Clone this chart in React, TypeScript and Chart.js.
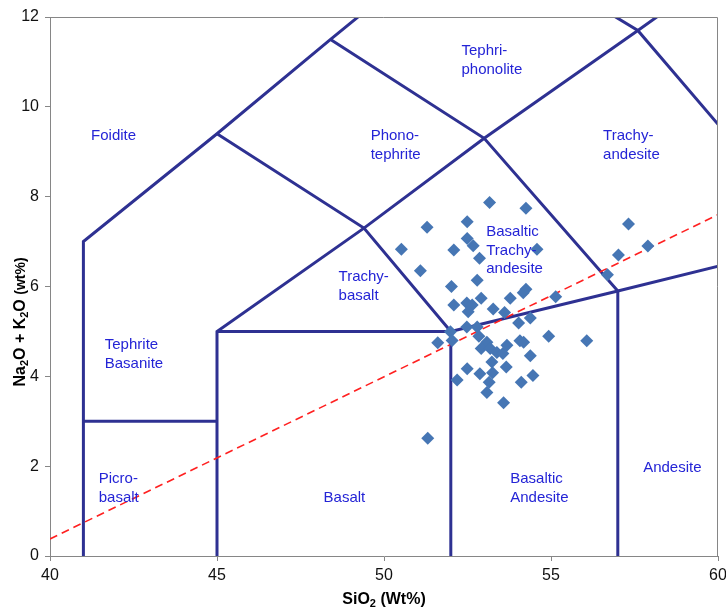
import React, { useEffect, useRef } from 'react';
import { Chart, registerables } from 'chart.js';

Chart.register(...registerables);

// ---- Sample data (SiO2 wt%, Na2O+K2O wt%) ----
const sio2 = [
  53.16, 54.25, 51.29, 52.49, 52.49, 52.67, 52.09, 52.86, 54.58, 50.52,
  51.09, 52.79, 52.02, 54.25, 54.17, 52.91, 53.78, 55.14, 52.09, 52.48,
  52.64, 52.52, 53.27, 53.61, 54.38, 54.03, 52.48, 52.79, 51.99, 52.04,
  51.61, 52.84, 53.08, 52.91, 53.18, 53.38, 53.68, 53.56, 54.07, 54.18,
  54.93, 56.07, 54.38, 53.23, 53.66, 52.49, 52.87, 53.25, 52.19, 53.15,
  54.11, 54.46, 53.08, 53.58, 51.31, 57.32, 57.02, 57.9, 56.69,
];
const alkali = [
  7.87, 7.74, 7.32, 7.44, 7.07, 6.91, 6.81, 6.63, 6.83, 6.83,
  6.35, 6.14, 6.0, 5.94, 5.86, 5.74, 5.74, 5.77, 5.59, 5.63,
  5.59, 5.44, 5.5, 5.42, 5.3, 5.19, 5.1, 5.1, 4.99, 4.8,
  4.75, 4.89, 4.76, 4.62, 4.62, 4.53, 4.69, 4.51, 4.79, 4.76,
  4.89, 4.79, 4.46, 4.32, 4.21, 4.17, 4.06, 4.08, 3.92, 3.87,
  3.87, 4.02, 3.64, 3.41, 2.62, 7.39, 6.7, 6.9, 6.26,
];

// ---- TAS field boundaries (Le Bas et al., 1986) ----
const foiditeBoundary: [number, number][] = [[41, 0], [41, 7], [45, 9.4], [48.4, 11.5], [52.5, 14]];
const picroBasaltTop: [number, number][] = [[41, 3], [45, 3]];
const basaltLeftUp: [number, number][] = [[45, 0], [45, 5], [49.4, 7.3], [53, 9.3], [57.6, 11.7], [61, 13.5]];
const tephriteTop: [number, number][] = [[45, 9.4], [49.4, 7.3], [52, 5]];
const alkaliLower: [number, number][] = [[45, 5], [52, 5], [57, 5.9], [63, 7]];
const basaltRight: [number, number][] = [[52, 0], [52, 5]];
const andesiteLeft: [number, number][] = [[57, 0], [57, 5.9]];
const phonotephriteRight: [number, number][] = [[48.4, 11.5], [53, 9.3], [57, 5.9]];
const tephriphonoliteRight: [number, number][] = [[52.5, 14], [57.6, 11.7], [63, 7]];
const boundaries = [
  foiditeBoundary, picroBasaltTop, basaltLeftUp, tephriteTop, alkaliLower,
  basaltRight, andesiteLeft, phonotephriteRight, tephriphonoliteRight,
];

// Alkaline / sub-alkaline divide
const divideLine: [number, number][] = [[40, 0.38], [60, 7.6]];

// ---- Field names (anchored at data coordinates, left aligned) ----
const fieldLabels: { x: number; y: number; lines: string[] }[] = [
  { x: 52.32, y: 11.24, lines: ['Tephri-', 'phonolite'] },
  { x: 41.23, y: 9.35, lines: ['Foidite'] },
  { x: 49.6, y: 9.35, lines: ['Phono-', 'tephrite'] },
  { x: 56.56, y: 9.35, lines: ['Trachy-', 'andesite'] },
  { x: 53.06, y: 7.21, lines: ['Basaltic', 'Trachy-', 'andesite'] },
  { x: 48.64, y: 6.21, lines: ['Trachy-', 'basalt'] },
  { x: 41.64, y: 4.7, lines: ['Tephrite', 'Basanite'] },
  { x: 41.46, y: 1.71, lines: ['Picro-', 'basalt'] },
  { x: 48.19, y: 1.29, lines: ['Basalt'] },
  { x: 53.78, y: 1.71, lines: ['Basaltic', 'Andesite'] },
  { x: 57.76, y: 1.96, lines: ['Andesite'] },
];

const xTitleParts = [
  { text: 'SiO', size: 16, sub: false },
  { text: '2', size: 11, sub: true },
  { text: ' (Wt%)', size: 16, sub: false },
];
const yTitleParts = [
  { text: 'Na', size: 16, sub: false },
  { text: '2', size: 11, sub: true },
  { text: 'O + K', size: 16, sub: false },
  { text: '2', size: 11, sub: true },
  { text: 'O ', size: 16, sub: false },
  { text: '(wt%)', size: 14, sub: false },
];

const FONT = 'Arial, "Liberation Sans", sans-serif';
const LINE_COLOR = '#2E3192';
const AXIS_COLOR = '#868686';

function drawRich(
  ctx: CanvasRenderingContext2D,
  parts: { text: string; size: number; sub: boolean }[],
  cx: number,
  cy: number,
  vertical: boolean,
) {
  ctx.save();
  ctx.translate(cx, cy);
  if (vertical) ctx.rotate(-Math.PI / 2);
  let total = 0;
  for (const p of parts) {
    ctx.font = `bold ${p.size}px ${FONT}`;
    total += ctx.measureText(p.text).width;
  }
  let x = -total / 2;
  ctx.fillStyle = '#000';
  ctx.textAlign = 'left';
  ctx.textBaseline = 'alphabetic';
  for (const p of parts) {
    ctx.font = `bold ${p.size}px ${FONT}`;
    ctx.fillText(p.text, x, p.sub ? 9 : 6);
    x += ctx.measureText(p.text).width;
  }
  ctx.restore();
}

const annotations = {
  id: 'tasAnnotations',
  afterDatasetsDraw(chart: any) {
    const { ctx, chartArea, scales } = chart;
    const xs = scales.x;
    const ys = scales.y;
    ctx.save();
    // plot-area frame (top & right)
    ctx.strokeStyle = AXIS_COLOR;
    ctx.lineWidth = 1;
    ctx.beginPath();
    ctx.moveTo(chartArea.left, chartArea.top + 0.5);
    ctx.lineTo(chartArea.right - 0.5, chartArea.top + 0.5);
    ctx.lineTo(chartArea.right - 0.5, chartArea.bottom);
    ctx.stroke();
    // field names
    ctx.fillStyle = '#2424D6';
    ctx.font = `15px ${FONT}`;
    ctx.textAlign = 'left';
    ctx.textBaseline = 'middle';
    for (const l of fieldLabels) {
      const px = xs.getPixelForValue(l.x);
      const py = ys.getPixelForValue(l.y);
      l.lines.forEach((t, i) => ctx.fillText(t, px, py + i * 18.5));
    }
    ctx.restore();
  },
  afterDraw(chart: any) {
    const { ctx, chartArea } = chart;
    drawRich(ctx, xTitleParts, (chartArea.left + chartArea.right) / 2, 598, false);
    drawRich(ctx, yTitleParts, 19, 322, true);
  },
};

export default function App() {
  const ref = useRef<HTMLCanvasElement | null>(null);

  useEffect(() => {
    document.body.style.margin = '0';
    if (!ref.current) return;
    const datasets: any[] = [
      {
        label: 'Samples',
        data: sio2.map((x, i) => ({ x, y: alkali[i] })),
        pointStyle: 'rectRot',
        pointRadius: 6.5,
        pointBackgroundColor: '#4676B4',
        pointBorderColor: '#4676B4',
        pointBorderWidth: 0,
        showLine: false,
      },
      {
        label: 'Divide',
        data: divideLine.map(([x, y]) => ({ x, y })),
        showLine: true,
        borderColor: '#FF2020',
        borderWidth: 1.6,
        borderDash: [8, 5],
        pointRadius: 0,
        fill: false,
      },
      ...boundaries.map((b, i) => ({
        label: 'Boundary ' + i,
        data: b.map(([x, y]) => ({ x, y })),
        showLine: true,
        borderColor: LINE_COLOR,
        borderWidth: 3,
        pointRadius: 0,
        fill: false,
        tension: 0,
      })),
    ];

    const chart = new Chart(ref.current, {
      type: 'scatter',
      data: { datasets },
      options: {
        animation: false,
        responsive: true,
        maintainAspectRatio: false,
        layout: { padding: { top: 17, right: 8, left: 0, bottom: 0 } },
        plugins: { legend: { display: false }, tooltip: { enabled: false } },
        scales: {
          x: {
            type: 'linear',
            min: 40,
            max: 60,
            afterFit: (s: any) => { s.height = 53; s.paddingLeft = 0; s.paddingRight = 0; },
            ticks: { stepSize: 5, color: '#111', font: { size: 16, family: FONT }, padding: 5 },
            grid: { drawOnChartArea: false, drawTicks: true, tickLength: 5, color: AXIS_COLOR },
            border: { color: AXIS_COLOR, width: 1 },
          },
          y: {
            type: 'linear',
            min: 0,
            max: 12,
            afterFit: (s: any) => { s.width = 50; s.paddingTop = 0; s.paddingBottom = 0; },
            ticks: { stepSize: 2, color: '#111', font: { size: 16, family: FONT }, padding: 6 },
            grid: { drawOnChartArea: false, drawTicks: true, tickLength: 5, color: AXIS_COLOR },
            border: { color: AXIS_COLOR, width: 1 },
          },
        },
      },
      plugins: [annotations],
    });
    return () => chart.destroy();
  }, []);

  return (
    <div style={{ width: 726, height: 609, position: 'relative' }}>
      <canvas ref={ref} />
    </div>
  );
}
